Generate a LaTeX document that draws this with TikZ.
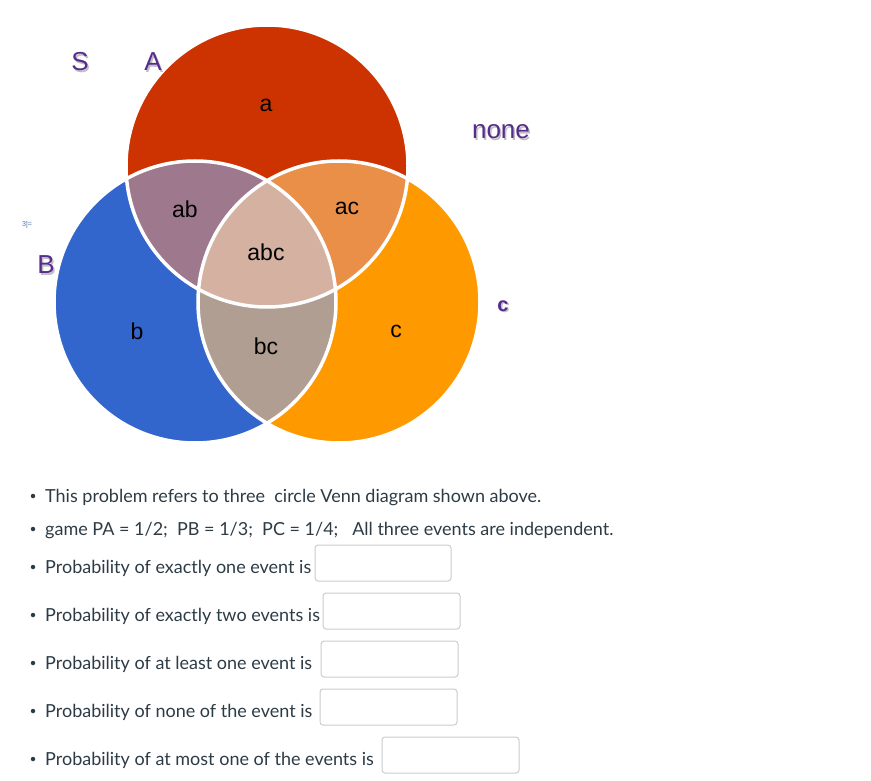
\documentclass[tikz,border=0pt]{standalone}
\usepackage{fontspec}
\setmainfont{Lato}
\newfontfamily\arialf{Liberation Sans}
\definecolor{cA}{RGB}{204,51,0}
\definecolor{cB}{RGB}{51,102,204}
\definecolor{cC}{RGB}{255,153,0}
\definecolor{cAB}{RGB}{158,121,142}
\definecolor{cAC}{RGB}{234,143,72}
\definecolor{cBC}{RGB}{175,158,145}
\definecolor{cABC}{RGB}{212,177,161}
\definecolor{cP}{RGB}{88,44,140}
\definecolor{cT}{RGB}{45,59,69}
\definecolor{cBox}{RGB}{199,205,209}
\tikzset{
  reglab/.style={font=\arialf\fontsize{23}{23}\selectfont, text=black, inner sep=0pt},
  setlab/.style={font=\arialf\fontsize{26}{26}\selectfont, text=cP, inner sep=0pt},
  shlab/.style={font=\arialf\fontsize{26}{26}\selectfont, text=black!25, inner sep=0pt},
  qtext/.style={font=\fontsize{18}{18}\selectfont, text=cT, anchor=base west, inner sep=0pt},
  bul/.style={circle, fill=cT, inner sep=0pt, minimum size=4.5pt},
  ansbox/.style={draw=cBox, fill=white, rounded corners=3pt, line width=1pt}
}
\begin{document}
\begin{tikzpicture}[x=1pt,y=-1pt]
\useasboundingbox (0,0) rectangle (871,781);
% circles
\fill[cA] (267,166) circle[radius=141];
\fill[cB] (195,302) circle[radius=141];
\fill[cC] (339,302) circle[radius=141];
\begin{scope}
  \clip (267,166) circle[radius=141];
  \fill[cAB] (195,302) circle[radius=141];
  \fill[cAC] (339,302) circle[radius=141];
\end{scope}
\begin{scope}
  \clip (195,302) circle[radius=141];
  \fill[cBC] (339,302) circle[radius=141];
\end{scope}
\begin{scope}
  \clip (267,166) circle[radius=141];
  \clip (195,302) circle[radius=141];
  \fill[cABC] (339,302) circle[radius=141];
\end{scope}
\draw[white, line width=3.5pt] (267,166) circle[radius=141];
\draw[white, line width=3.5pt] (195,302) circle[radius=141];
\draw[white, line width=3.5pt] (339,302) circle[radius=141];
% region labels
\node[reglab] (la) at (266,105) {a};
\node[reglab] (lab) at (185,209) {ab};
\node[reglab] (lac) at (347,208) {ac};
\node[reglab] (labc) at (266,252) {abc};
\node[reglab] (lb) at (137,331) {b};
\node[reglab] (lbc) at (266,346) {bc};
\node[reglab] (lc) at (396,331) {c};
% set labels with shadow
\node[shlab] (Ssh) at (81.5,63.5) {S};
\node[setlab] (S) at (80,62) {S};
\node[shlab] (Ash) at (154.5,63.5) {A};
\node[setlab] (A) at (153,62) {A};
\node[shlab] (Bsh) at (47.5,266.5) {B};
\node[setlab] (B) at (46,265) {B};
\node[shlab] (nonesh) at (502.5,133.5) {none};
\node[setlab] (none) at (501,132) {none};
\node[shlab, font=\arialf\bfseries\fontsize{20}{20}\selectfont] (csh) at (504.5,307.5) {c};
\node[setlab, font=\arialf\bfseries\fontsize{20}{20}\selectfont] (cl) at (503,306) {c};
\node[font=\arialf\fontsize{7}{7}\selectfont, text=cB!60!gray, inner sep=0pt] (eq) at (27,225) {3]=};
% questions
\foreach \y/\t [count=\i] in {
  502/{This problem refers to three \ circle Venn diagram shown above.},
  535/{game PA = 1/2; \ PB = 1/3; \ PC = 1/4; \ \ All three events are independent.},
  573/{Probability of exactly one event is},
  621/{Probability of exactly two events is},
  669/{Probability of at least one event is},
  717/{Probability of none of the event is},
  765/{Probability of at most one of the events is}}{
  \node[bul] (b\i) at (33,\y-6) {};
  \node[qtext] (q\i) at (45,\y) {\t};
}
\draw[ansbox] (315,545) rectangle (451,581) coordinate (box1);
\draw[ansbox] (323,593) rectangle (460,629) coordinate (box2);
\draw[ansbox] (321,641) rectangle (458,677) coordinate (box3);
\draw[ansbox] (320,689) rectangle (457,725) coordinate (box4);
\draw[ansbox] (382,737) rectangle (519,773) coordinate (box5);
\end{tikzpicture}
\end{document}
